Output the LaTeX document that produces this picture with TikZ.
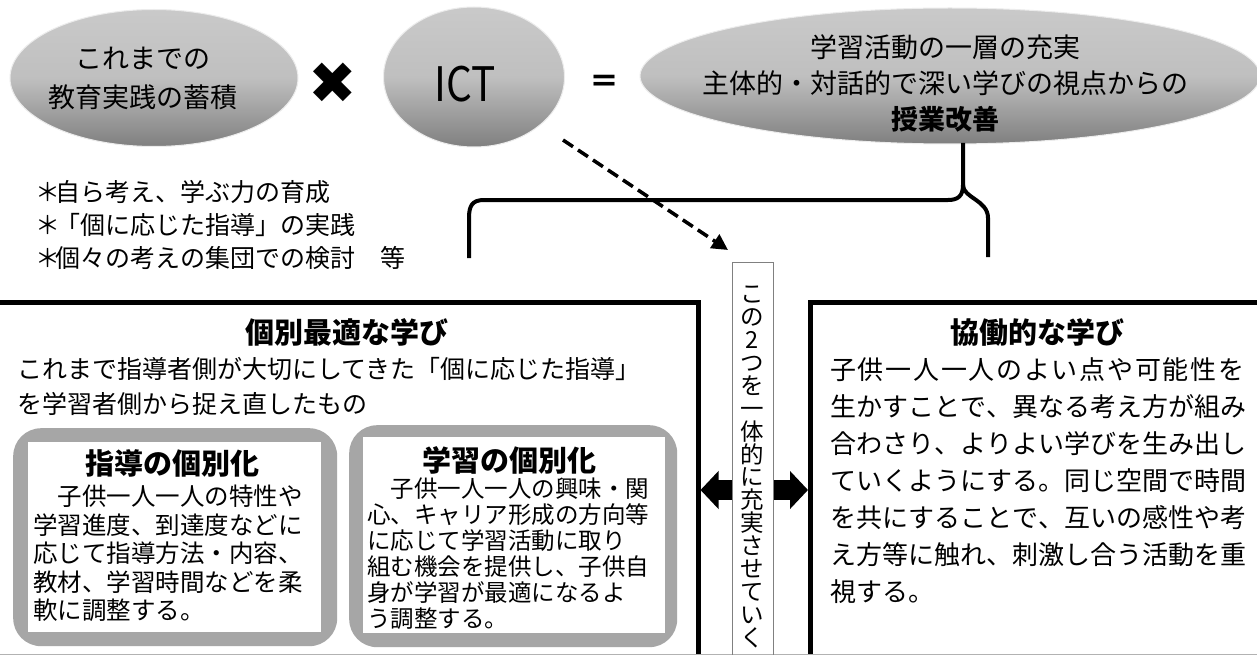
\documentclass[tikz,border=0pt]{standalone}
\usepackage{fontspec}
\setmainfont{Noto Sans CJK JP}
\newfontfamily\dejavu{DejaVu Sans}
\usetikzlibrary{shapes.geometric,arrows.meta,calc}
\newcommand\myfs[2]{\fontsize{#1}{#2}\selectfont}
\def\spreadloop#1{\ifx#1\relax\else\hfil#1\expandafter\spreadloop\fi}
\def\spreadfirst#1{#1\spreadloop}
\newcommand\jline[1]{\makebox[414pt][s]{\spreadfirst#1\relax}}
\newcommand\bulmark{\makebox[0.6em][c]{＊}}
\begin{document}
\begin{tikzpicture}[x=1pt,y=-1pt,
  bubble/.style={ellipse, draw=gray!15, line width=1pt, top color=gray!42, bottom color=gray!100, middle color=gray!50, inner sep=0pt},
  panel/.style={rectangle, draw=black, line width=4.5pt, inner sep=0pt, anchor=north west},
  pill/.style={rectangle, rounded corners=28pt, fill=gray!70, inner sep=0pt, anchor=north west},
  card/.style={rectangle, fill=white, inner sep=0pt, anchor=north west},
  txt/.style={inner sep=0pt, align=left, anchor=north west},
  ctxt/.style={inner sep=0pt, align=center},
  head/.style={inner sep=0pt, font=\bfseries\myfs{29}{29}},
  brace/.style={line width=4pt, line join=round},
  dasharrow/.style={line width=3.5pt, dash pattern=on 12pt off 6pt, -{Triangle[length=16pt,width=16pt]}},
  blockarrow/.style={line width=20pt, -{Triangle[length=18pt,width=37pt]}}
]
\useasboundingbox (0,0) rectangle (1257,655);
\fill[white] (0,0) rectangle (1257,655);

% top row
\node[bubble, minimum width=288pt, minimum height=137pt] (e1) at (154,78) {};
\node[ctxt, font=\myfs{27}{39}] (e1t) at (143,78) {これまでの\\教育実践の蓄積};
\node[inner sep=0pt, font=\dejavu\myfs{58}{58}] (times) at (333,83) {✖};
\node[bubble, minimum width=181pt, minimum height=140pt] (ict) at (474,77) {};
\node[inner sep=0pt, font=\myfs{44}{44}] (ictt) at (465,84) {\scalebox{0.92}[1.08]{ICT}};
\node[inner sep=0pt, font=\bfseries\myfs{30}{30}] (eq) at (604,84) {＝};
\node[bubble, minimum width=620pt, minimum height=136pt] (e3) at (950,76) {};
\node[ctxt, font=\myfs{27}{36}] (e3t) at (945,83) {学習活動の一層の充実\\主体的・対話的で深い学びの視点からの\\\textbf{授業改善}};

% bullets
\node[txt, font=\myfs{25}{33}] (bul) at (40,180) {\bulmark 自ら考え、学ぶ力の育成\\\bulmark 「個に応じた指導」の実践\\\bulmark 個々の考えの集団での検討　等};

% brace
\coordinate (bt) at (963,143);
\coordinate (bm) at (963,185);
\draw[brace] (bt) -- (bm) .. controls (963,196) and (958,200) .. (948,200) -- (484,200) .. controls (472,200) and (469,206) .. (469,218) -- (469,258);
\draw[brace] (bm) .. controls (963,198) and (988,200) .. (988,218) -- (988,257);

% dashed arrow
\coordinate (ds) at (563,140);
\coordinate (de) at (728,250);
\draw[dasharrow] (ds) -- (de);

% panels
\node[panel, minimum width=706pt, minimum height=420pt] (lbox) at (-10,300) {};
\node[panel, minimum width=480pt, minimum height=420pt] (rbox) at (808,300) {};
\draw[gray!60, line width=1pt] (0,654) -- (1257,654);

% left panel content
\node[head] (lt) at (347,332) {個別最適な学び};
\node[txt, font=\myfs{25}{35}] (ld) at (17,357) {これまで指導者側が大切にしてきた「個に応じた指導」\\を学習者側から捉え直したもの};

\node[pill, minimum width=324pt, minimum height=218pt] (p1) at (13,428) {};
\node[card, minimum width=293pt, minimum height=190pt] (c1) at (28,442) {};
\node[head] (t1) at (172,463) {指導の個別化};
\node[txt, font=\myfs{24.5}{28.5}] (b1) at (33,485) {　子供一人一人の特性や\\学習進度、到達度などに\\応じて指導方法・内容、\\教材、学習時間などを柔\\軟に調整する。};

\node[pill, minimum width=328pt, minimum height=222pt] (p2) at (349,425) {};
\node[card, minimum width=302pt, minimum height=196pt] (c2) at (363,437) {};
\node[head] (t2) at (509,460) {学習の個別化};
\node[txt, font=\myfs{23.5}{26}] (b2) at (367,478) {　子供一人一人の興味・関\\心、キャリア形成の方向等\\に応じて学習活動に取り\\組む機会を提供し、子供自\\身が学習が最適になるよ\\う調整する。};

% middle vertical box
\node[rectangle, draw=gray, line width=1pt, inner sep=0pt, anchor=north west, minimum width=41pt, minimum height=400pt] (vbox) at (732,262) {};
\node[ctxt, font=\myfs{23.5}{22.9}] (vt) at (752,467) {こ\\の\\2\\つ\\を\\一\\体\\的\\に\\充\\実\\さ\\せ\\て\\い\\く};

\draw[blockarrow] (vbox.west |- 0,490) -- (lbox.east |- 0,490);
\draw[blockarrow] (vbox.east |- 0,490) -- (rbox.west |- 0,490);

% right panel content
\node[head] (rt) at (1037,332) {協働的な学び};
\node[txt, font=\myfs{26}{37}] (rb) at (830,357) {\jline{子供一人一人のよい点や可能性を}\\\jline{生かすことで、異なる考え方が組み}\\\jline{合わさり、よりよい学びを生み出し}\\\jline{ていくようにする。同じ空間で時間}\\\jline{を共にすることで、互いの感性や考}\\\jline{え方等に触れ、刺激し合う活動を重}\\視する。};
\end{tikzpicture}
\end{document}
